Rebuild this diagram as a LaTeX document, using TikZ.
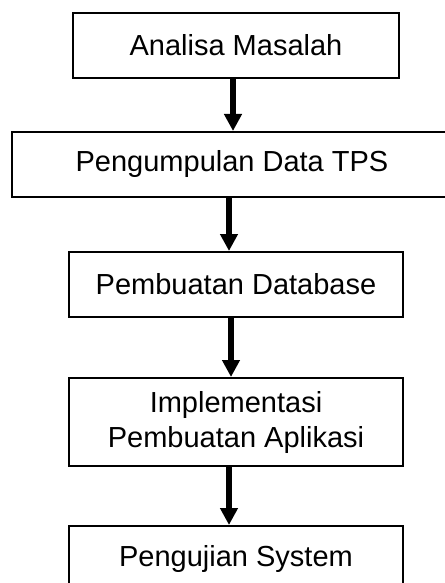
\documentclass[tikz,border=0pt]{standalone}
\usepackage{fontspec}
\setmainfont{Liberation Sans}
\usetikzlibrary{arrows.meta}
\begin{document}
\begin{tikzpicture}[x=1pt,y=-1pt,
  stepbox/.style={draw=black,line width=2pt,inner sep=0pt,align=center,
    font=\fontsize{29}{35}\selectfont},
  flowarrow/.style={line width=6pt,-{Triangle[width=17pt,length=17pt]}}]
\useasboundingbox (0,0) rectangle (444,583);
\node[stepbox,minimum width=326pt,minimum height=65pt] (b1) at (236,45.5) {Analisa Masalah};
\node[stepbox,minimum width=440pt,minimum height=65pt] (b2) at (232,164.5) {Pengumpulan Data TPS};
\node[stepbox,minimum width=334pt,minimum height=65pt] (b3) at (236,284.5) {Pembuatan Database};
\node[stepbox,minimum width=334pt,minimum height=88pt] (b4) at (236,422) {Implementasi\\Pembuatan Aplikasi};
\node[stepbox,minimum width=334pt,minimum height=65pt] (b5) at (236,558.5) {Pengujian System};
\draw[flowarrow] ([xshift=-3pt]b1.south) -- ([xshift=-3pt]b1.south |- b2.north);
\draw[flowarrow] ([xshift=-3pt]b2.south) -- ([xshift=-3pt]b2.south |- b3.north);
\draw[flowarrow] ([xshift=-5pt,yshift=2pt]b3.south) -- ([xshift=-5pt]b3.south |- b4.north);
\draw[flowarrow] ([xshift=-7pt,yshift=2pt]b4.south) -- ([xshift=-7pt]b4.south |- b5.north);
\end{tikzpicture}
\end{document}
